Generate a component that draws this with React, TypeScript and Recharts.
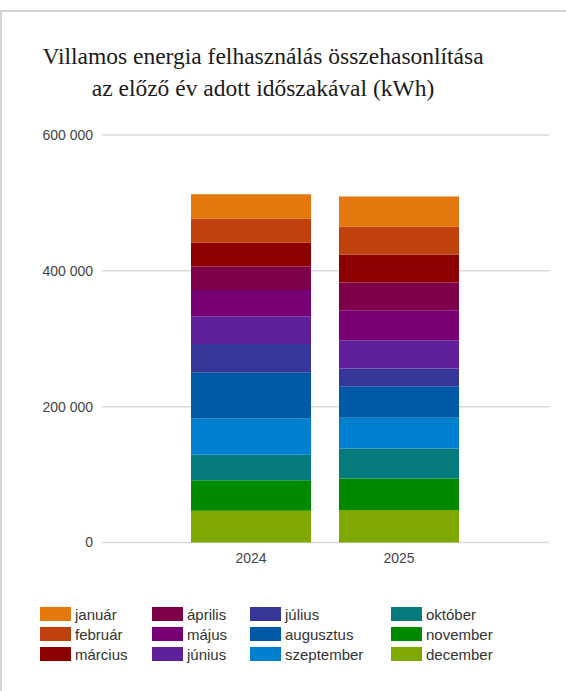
import { BarChart, Bar, XAxis, YAxis, CartesianGrid } from 'recharts'

// months in legend order (top of stack first)
const MONTHS = [
  'január', 'február', 'március', 'április', 'május', 'június',
  'július', 'augusztus', 'szeptember', 'október', 'november', 'december',
]
const YEARS = ['2024', '2025']
const VALUES_2024 = [35800, 35300, 35300, 34900, 38300, 41200, 41600, 67700, 53600, 37700, 44700, 46800]
const VALUES_2025 = [44100, 41200, 41200, 41200, 44100, 41600, 26000, 46600, 45000, 44100, 46600, 47800]
const COLORS = [
  '#E3780C', '#C0410D', '#8C0000', '#7E0049', '#770074', '#60209A',
  '#37379A', '#0259A6', '#0080CE', '#067B7E', '#008A00', '#7FA900',
]
const Y_TICKS = [0, 200000, 400000, 600000]

const data = YEARS.map((year, i) => {
  const vals = i === 0 ? VALUES_2024 : VALUES_2025
  const row: Record<string, string | number> = { year }
  MONTHS.forEach((m, j) => { row[m] = vals[j] })
  return row
})

// thousands separated with a space, e.g. 600 000
const fmt = (v: number) => String(v).replace(/\B(?=(\d{3})+(?!\d))/g, ' ')

const legendCols = [40, 152, 250, 391]
const legendRows = [607, 627, 647]

export default function App() {
  return (
    <div style={{ position: 'absolute', left: 0, top: 0, width: 566, height: 691, background: '#fff', overflow: 'hidden' }}>
      {/* panel frame */}
      <div style={{ position: 'absolute', left: 0, top: 10, width: 580, height: 700, borderTop: '2px solid #d4d4d4', borderLeft: '2px solid #d4d4d4' }} />
      <div
        style={{
          position: 'absolute', left: 0, top: 40, width: 526, textAlign: 'center',
          fontFamily: '"Liberation Serif", serif', fontSize: 23.5, lineHeight: '32px', color: '#1a1a1a',
        }}
      >
        Villamos energia felhasználás összehasonlítása
        <br />
        az előző év adott időszakával (kWh)
      </div>
      <div style={{ position: 'absolute', left: 0, top: 0 }}>
        <BarChart width={566} height={691} data={data} margin={{ top: 135, right: 17, bottom: 118.5, left: 0 }}>
          <CartesianGrid vertical={false} stroke="#d9d9d9" strokeWidth={1.5} />
          <XAxis
            dataKey="year"
            height={30}
            axisLine={false}
            tickLine={false}
            tickMargin={5}
            padding={{ left: 75, right: 76 }}
            tick={{ fontSize: 14, fill: '#444', fontFamily: '"Liberation Sans", Arial, sans-serif' }}
          />
          <YAxis
            width={102}
            domain={[0, 600000]}
            ticks={Y_TICKS}
            axisLine={false}
            tickLine={false}
            tickMargin={3}
            tickFormatter={fmt}
            tick={{ fontSize: 14, fill: '#444', fontFamily: '"Liberation Sans", Arial, sans-serif' }}
          />
          {/* december at the bottom of the stack */}
          {[...MONTHS].reverse().map((m) => (
            <Bar
              key={m}
              dataKey={m}
              stackId="a"
              fill={COLORS[MONTHS.indexOf(m)]}
              barSize={120}
              isAnimationActive={false}
            />
          ))}
        </BarChart>
      </div>
      {MONTHS.map((m, i) => {
        const col = Math.floor(i / 3)
        const row = i % 3
        return (
          <div
            key={m}
            style={{
              position: 'absolute', left: legendCols[col], top: legendRows[row], height: 14,
              display: 'flex', alignItems: 'center',
              fontFamily: '"Liberation Sans", Arial, sans-serif', fontSize: 15, color: '#333',
            }}
          >
            <span style={{ display: 'inline-block', width: 31, height: 14, background: COLORS[i], marginRight: 4 }} />
            <span>{m}</span>
          </div>
        )
      })}
    </div>
  )
}
